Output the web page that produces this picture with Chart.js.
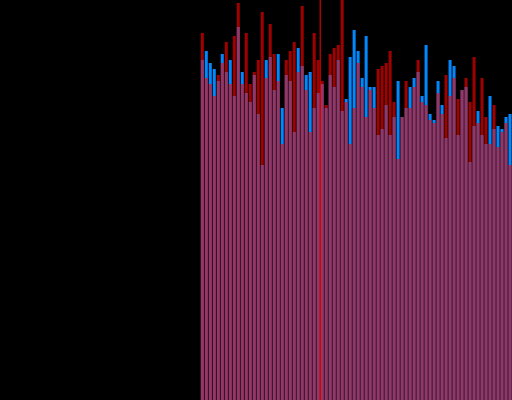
<!DOCTYPE html>
<html>
<head>
<meta charset="utf-8">
<script src="https://cdn.jsdelivr.net/npm/chart.js@4/dist/chart.umd.min.js"></script>
<style>
  html, body { margin: 0; padding: 0; background: #000; }
  #wrap { width: 512px; height: 400px; }
  canvas { display: block; background: #000; }
</style>
</head>
<body>
<div id="wrap"><canvas id="c" width="512" height="400"></canvas></div>
<script>
// Number of empty slots before the data begins
const leadingEmpty = 50;
// Red series values
const redValues = [
  367, 322, 316, 304, 325, 337, 358, 316, 364, 397,
  316, 367, 316, 328, 340, 388, 322, 376, 346, 319,
  256, 340, 349, 358, 328, 394, 310, 268, 367, 340,
  319, 295, 346, 352, 355, 405, 298, 256, 292, 337,
  313, 283, 310, 292, 331, 334, 337, 349, 298, 241,
  283, 319, 292, 313, 340, 298, 295, 280, 277, 307,
  286, 325, 304, 322, 301, 310, 322, 298, 343, 277,
  322, 283, 256, 295, 253, 268, 277, 235
];
// Blue series values
const blueValues = [
  340, 349, 337, 331, 319, 346, 328, 340, 304, 373,
  328, 307, 298, 325, 286, 235, 340, 343, 310, 346,
  292, 325, 319, 268, 352, 334, 325, 328, 292, 307,
  316, 292, 325, 313, 340, 289, 301, 343, 370, 349,
  322, 364, 313, 313, 265, 271, 295, 265, 283, 319,
  283, 292, 313, 322, 328, 304, 355, 286, 280, 319,
  295, 262, 340, 334, 265, 310, 313, 238, 274, 289,
  265, 256, 304, 271, 274, 271, 283, 286
];
// Marker line position (between categories) on the category axis
const markerPosition = 79.5;

const totalSlots = leadingEmpty + redValues.length;
const labels = [];
for (let i = 0; i < totalSlots; i++) labels.push(String(i + 1));
const pad = (arr) => Array(leadingEmpty).fill(null).concat(arr);

const markerPlugin = {
  id: 'marker',
  afterDatasetsDraw(chart) {
    const { ctx, chartArea, scales } = chart;
    const x = scales.x.getPixelForValue(markerPosition);
    ctx.save();
    ctx.strokeStyle = '#ff0000';
    ctx.lineWidth = 1;
    ctx.beginPath();
    ctx.moveTo(x, chartArea.top);
    ctx.lineTo(x, chartArea.bottom);
    ctx.stroke();
    ctx.restore();
  }
};

new Chart(document.getElementById('c'), {
  type: 'bar',
  data: {
    labels: labels,
    datasets: [
      {
        label: 'Red',
        data: pad(redValues),
        backgroundColor: 'rgba(255,0,0,0.63)',
        borderWidth: 0,
        grouped: false,
        barPercentage: 0.75,
        categoryPercentage: 1,
        inflateAmount: 0
      },
      {
        label: 'Blue',
        data: pad(blueValues),
        backgroundColor: '#0088ff',
        borderWidth: 0,
        grouped: false,
        barPercentage: 0.75,
        categoryPercentage: 1,
        inflateAmount: 0
      }
    ]
  },
  options: {
    responsive: false,
    animation: false,
    devicePixelRatio: 1,
    layout: { padding: { left: 0.5, right: -0.5, top: 0, bottom: 0 } },
    plugins: { legend: { display: false }, tooltip: { enabled: false }, title: { display: false } },
    scales: {
      x: { display: false, offset: true },
      y: { display: false, min: 0, max: 400 }
    }
  },
  plugins: [markerPlugin]
});
</script>
</body>
</html>
